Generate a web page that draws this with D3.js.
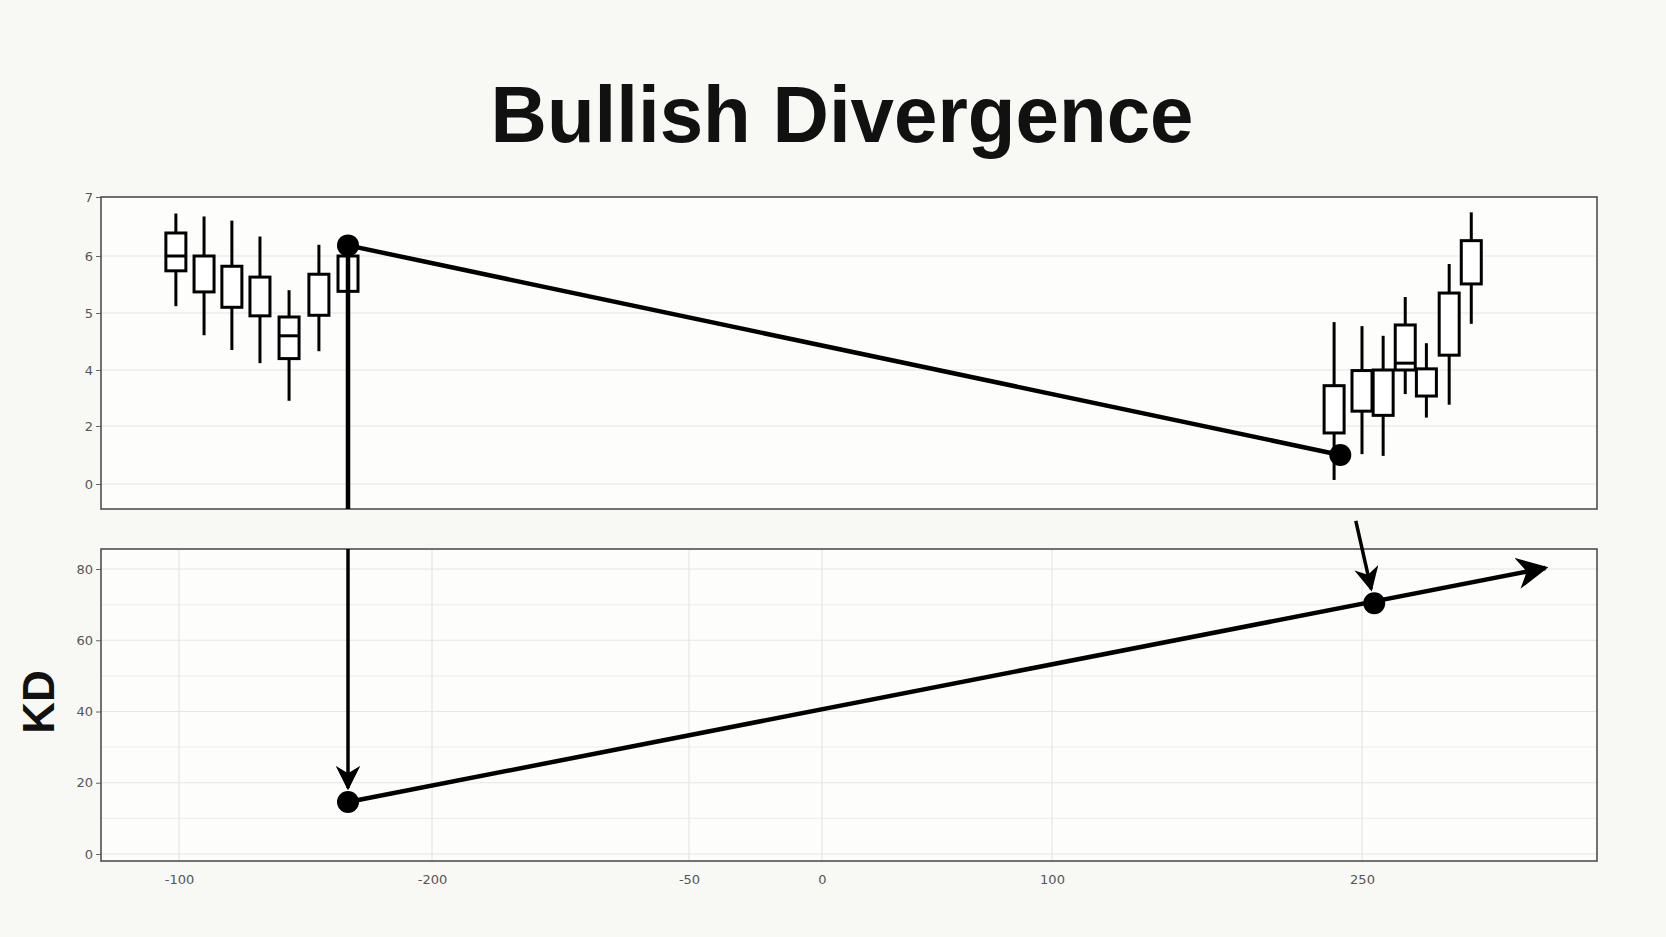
<!DOCTYPE html>
<html><head><meta charset="utf-8">
<script src="https://cdn.jsdelivr.net/npm/d3@7"></script>
<style>body{margin:0;background:#f8f8f5}svg{display:block}</style>
</head><body><svg id="c" width="1666" height="937"></svg>
<script>
// ---- data (x measured in axis slots; tick slots 1..6 carry the printed labels) ----
const xTickSlots = [1, 2, 3, 4, 5, 6];
const xTickLabels = ["-100", "-200", "-50", "0", "100", "250"];
const priceTicks = [7, 6, 5, 4, 2, 0];
const kdTicks = [80, 60, 40, 20, 0];
const candleX =    [0.96, 1.099, 1.209, 1.32, 1.435, 1.553, 1.668, 5.91, 6.0, 6.09, 6.184, 6.274, 6.371, 6.465];
const boxTop =     [6.39, 6.0, 5.82, 5.63, 4.93, 5.68, 6.0, 3.44, 3.98, 4.0, 4.79, 4.02, 5.35, 6.26];
const boxBottom =  [5.74, 5.37, 5.1, 4.95, 4.2, 4.96, 5.38, 1.76, 2.53, 2.38, 4.0, 3.07, 4.26, 5.51];
const wickHigh =   [6.72, 6.67, 6.6, 6.33, 5.4, 6.19, 6.2, 4.84, 4.77, 4.6, 5.28, 4.47, 5.86, 6.74];
const wickLow =    [5.12, 4.61, 4.35, 4.12, 2.9, 4.33, 5.38, 0.14, 1.03, 0.97, 3.14, 2.3, 2.76, 4.81];
const medianVal =  [6.0, null, null, null, 4.6, null, null, null, null, null, 4.12, null, null, null];
const priceDivX = [1.668, 5.93];
const priceDivY = [6.18, 1.0];
const kdDivX = [1.668, 6.052];
const kdDivY = [14.6, 70.4];
const kdArrowEnd = [6.78, 80.3];
const pointerStart = [5.98, 93.5];

// ---- scales ----
const svg = d3.select("#c");
const L = 101, R = 1597;
const x = d3.scaleLinear().domain([0, 1, 2, 3, 4, 5, 6, 7])
  .range([L, 179, 432, 689, 822, 1052, 1362, R]);
const yP = d3.scaleLinear().domain([0, 2, 4, 5, 6, 7]).range([484, 426, 370, 313, 256, 197]);
const pTop = 197, pBot = 509;
const yK = d3.scaleLinear().domain([0, 80]).range([854, 569]);
const kTop = 549, kBot = 861;

svg.append("defs").append("marker").attr("id","ah").attr("viewBox","0 0 10 10")
  .attr("refX",9).attr("refY",5).attr("markerWidth",7).attr("markerHeight",7)
  .attr("markerUnits","strokeWidth").attr("orient","auto")
  .append("path").attr("d","M0,0 L10,5 L0,10 L3,5 Z").attr("fill","#000");

// title
svg.append("text").attr("x", 842).attr("y", 142).attr("text-anchor","middle")
  .attr("font-family","Liberation Sans, Arial, sans-serif").attr("font-weight","bold")
  .attr("font-size", 80).attr("textLength", 703).attr("lengthAdjust","spacingAndGlyphs")
  .attr("fill","#111").text("Bullish Divergence");

// panels
[[pTop,pBot],[kTop,kBot]].forEach(([t,b]) => {
  svg.append("rect").attr("x",L).attr("y",t).attr("width",R-L).attr("height",b-t).attr("fill","#fdfdfc");
});
// grids
const g = svg.append("g").attr("stroke","#e6e6e3").attr("stroke-width",1.2);
priceTicks.forEach(v => g.append("line").attr("x1",L).attr("x2",R).attr("y1",yP(v)).attr("y2",yP(v)));
kdTicks.forEach(v => g.append("line").attr("x1",L).attr("x2",R).attr("y1",yK(v)).attr("y2",yK(v)));
[10,30,50,70].forEach(v => g.append("line").attr("x1",L).attr("x2",R).attr("y1",yK(v)).attr("y2",yK(v)).attr("stroke","#efefec"));
xTickSlots.forEach(v => g.append("line").attr("x1",x(v)).attr("x2",x(v)).attr("y1",kTop).attr("y2",kBot));

// axes
const font = "DejaVu Sans, sans-serif";
const axP = svg.append("g").attr("transform",`translate(${L},0)`)
  .call(d3.axisLeft(yP).tickValues(priceTicks).tickSize(5).tickFormat(d3.format("d")));
const axK = svg.append("g").attr("transform",`translate(${L},0)`)
  .call(d3.axisLeft(yK).tickValues(kdTicks).tickSize(5).tickFormat(d3.format("d")));
const axX = svg.append("g").attr("transform",`translate(0,${kBot})`)
  .call(d3.axisBottom(x).tickValues(xTickSlots).tickSize(0).tickPadding(14)
    .tickFormat((d,i) => xTickLabels[i]));
[axP,axK,axX].forEach(a => {
  a.select(".domain").remove();
  a.selectAll("text").attr("font-family",font).attr("font-size",13).attr("fill","#555");
  a.selectAll("line").attr("stroke","#666");
});
[[pTop,pBot],[kTop,kBot]].forEach(([t,b]) => {
  svg.append("rect").attr("x",L).attr("y",t).attr("width",R-L).attr("height",b-t)
    .attr("fill","none").attr("stroke","#444").attr("stroke-width",1.5);
});

// KD label
svg.append("text").attr("transform","translate(54,702) rotate(-90)").attr("text-anchor","middle")
  .attr("font-family","Liberation Sans, Arial, sans-serif").attr("font-weight","bold")
  .attr("font-size",44).attr("fill","#111").text("KD");

// candles
const cw = 20;
const cg = svg.append("g").attr("stroke","#000").attr("stroke-width",3).attr("fill","none");
candleX.forEach((cx,i) => {
  const px = x(cx);
  cg.append("line").attr("x1",px).attr("x2",px).attr("y1",yP(wickHigh[i])).attr("y2",yP(boxTop[i]));
  cg.append("line").attr("x1",px).attr("x2",px).attr("y1",yP(boxBottom[i])).attr("y2",yP(wickLow[i]));
  cg.append("rect").attr("x",px-cw/2).attr("y",yP(boxTop[i])).attr("width",cw)
    .attr("height",yP(boxBottom[i])-yP(boxTop[i])).attr("fill","#fff");
  if (medianVal[i] !== null)
    cg.append("line").attr("x1",px-cw/2).attr("x2",px+cw/2).attr("y1",yP(medianVal[i])).attr("y2",yP(medianVal[i]));
});

// divergence lines
const lw = 4.5;
svg.append("line").attr("x1",x(priceDivX[0])).attr("y1",yP(priceDivY[0]))
  .attr("x2",x(priceDivX[1])).attr("y2",yP(priceDivY[1])).attr("stroke","#000").attr("stroke-width",lw);
svg.append("line").attr("x1",x(priceDivX[0])).attr("y1",yP(priceDivY[0]))
  .attr("x2",x(priceDivX[0])).attr("y2",pBot).attr("stroke","#000").attr("stroke-width",lw);
svg.append("line").attr("x1",x(kdDivX[0])).attr("y1",kTop)
  .attr("x2",x(kdDivX[0])).attr("y2",yK(kdDivY[0])-14).attr("stroke","#000").attr("stroke-width",3.5)
  .attr("marker-end","url(#ah)");
svg.append("line").attr("x1",x(kdDivX[0])).attr("y1",yK(kdDivY[0]))
  .attr("x2",x(kdArrowEnd[0])).attr("y2",yK(kdArrowEnd[1])).attr("stroke","#000").attr("stroke-width",lw)
  .attr("marker-end","url(#ah)");
svg.append("line").attr("x1",x(pointerStart[0])).attr("y1",yK(pointerStart[1]))
  .attr("x2",x(kdDivX[1])-3).attr("y2",yK(kdDivY[1])-14).attr("stroke","#000").attr("stroke-width",3.5)
  .attr("marker-end","url(#ah)");
// dots
[[x(priceDivX[0]),yP(priceDivY[0])],[x(priceDivX[1]),yP(priceDivY[1])],
 [x(kdDivX[0]),yK(kdDivY[0])],[x(kdDivX[1]),yK(kdDivY[1])]].forEach(([cx,cy]) =>
  svg.append("circle").attr("cx",cx).attr("cy",cy).attr("r",11).attr("fill","#000"));
</script></body></html>
